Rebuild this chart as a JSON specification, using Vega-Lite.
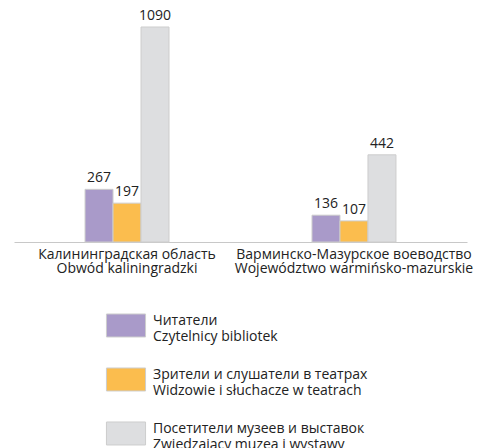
{
  "$schema": "https://vega.github.io/schema/vega-lite/v6.json",
  "width": 453,
  "height": 215,
  "autosize": {"type": "none"},
  "padding": {"left": 14, "top": 27, "right": 11, "bottom": 206},
  "config": {"view": {"stroke": null}, "font": "Open Sans", "text": {"font": "Open Sans"}},
  "data": {
    "values": [
      {"region": "Калининградская область|Obwód kaliningradzki", "category": "Читатели|Czytelnicy bibliotek", "value": 267},
      {"region": "Калининградская область|Obwód kaliningradzki", "category": "Зрители и слушатели в театрах|Widzowie i słuchacze w teatrach", "value": 197},
      {"region": "Калининградская область|Obwód kaliningradzki", "category": "Посетители музеев и выставок|Zwiedzający muzea i wystawy", "value": 1090},
      {"region": "Варминско-Мазурское воеводство|Województwo warmińsko-mazurskie", "category": "Читатели|Czytelnicy bibliotek", "value": 136},
      {"region": "Варминско-Мазурское воеводство|Województwo warmińsko-mazurskie", "category": "Зрители и слушатели в театрах|Widzowie i słuchacze w teatrach", "value": 107},
      {"region": "Варминско-Мазурское воеводство|Województwo warmińsko-mazurskie", "category": "Посетители музеев и выставок|Zwiedzający muzea i wystawy", "value": 442}
    ]
  },
  "encoding": {
    "x": {
      "field": "region", "type": "nominal", "sort": null,
      "scale": {"paddingInner": 0.63, "paddingOuter": 0.313},
      "axis": {"title": null, "labelAngle": 0, "ticks": false, "domainColor": "#c8c8c8", "labelExpr": "split(datum.value, '|')", "labelFontSize": 14, "labelColor": "#222222", "labelPadding": 5, "labelLineHeight": 14, "labelLimit": 400, "labelOverlap": false}
    },
    "xOffset": {"field": "category", "type": "nominal", "sort": null, "scale": {"paddingInner": 0, "paddingOuter": 0}},
    "y": {"field": "value", "type": "quantitative", "scale": {"domain": [0, 1090]}, "axis": null}
  },
  "layer": [
    {
      "mark": {"type": "bar", "stroke": "#cdcdcd", "strokeWidth": 1},
      "encoding": {
        "color": {
          "field": "category", "type": "nominal", "sort": null,
          "scale": {"range": ["#a99ac9", "#fbbd4e", "#dddee0"]},
          "legend": {
            "title": null, "orient": "none", "legendX": 100, "legendY": 282, "direction": "vertical",
            "symbolType": "M-1.7,-0.61H1.7V1.39H-1.7Z", "symbolSize": 529, "symbolStrokeColor": "#cdcdcd", "symbolStrokeWidth": 1, "symbolOpacity": 1,
            "labelExpr": "split(datum.value, '|')", "labelFontSize": 14, "labelColor": "#222222", "labelLineHeight": 15, "labelOffset": 15, "rowPadding": 19, "labelLimit": 400, "padding": 0
          }
        }
      }
    },
    {
      "mark": {"type": "text", "dy": -7, "fontSize": 14, "baseline": "alphabetic", "color": "#222222"},
      "encoding": {"text": {"field": "value", "type": "quantitative"}}
    }
  ]
}
